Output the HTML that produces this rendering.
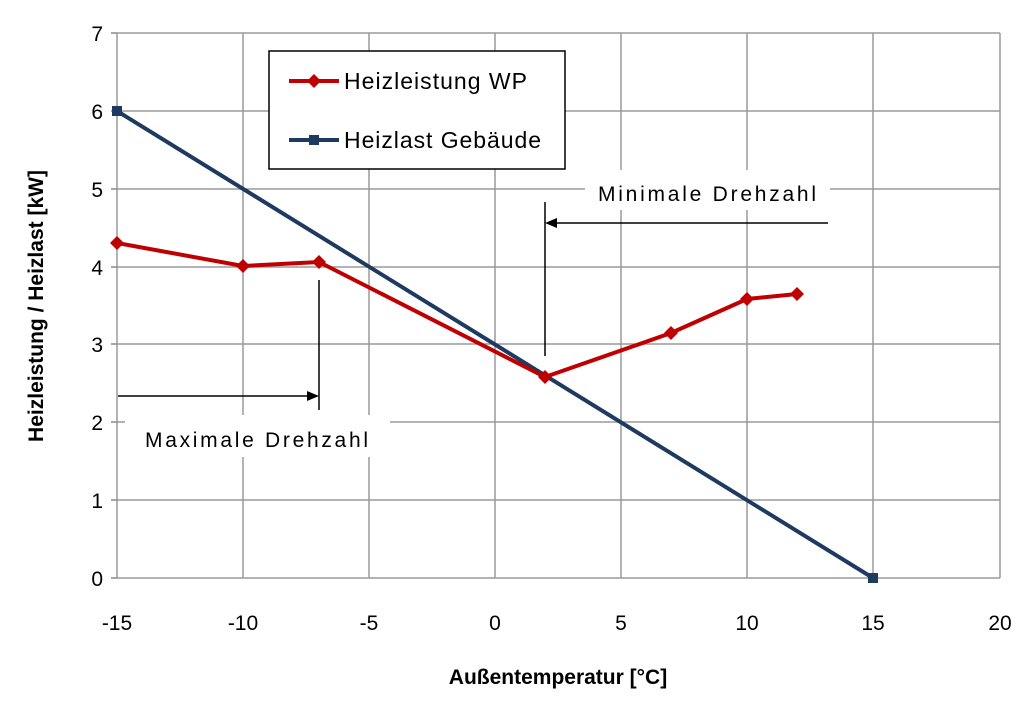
<!DOCTYPE html>
<html><head><meta charset="utf-8"><style>body{margin:0;background:#fff}svg{display:block}text{font-family:"Liberation Sans",sans-serif;fill:#000}</style></head><body>
<svg width="1024" height="722" viewBox="0 0 1024 722">
<g stroke="#9a9a9a" stroke-width="1.5">
<line x1="243" y1="33" x2="243" y2="578"/><line x1="369" y1="33" x2="369" y2="578"/><line x1="495" y1="33" x2="495" y2="578"/><line x1="621" y1="33" x2="621" y2="578"/><line x1="747" y1="33" x2="747" y2="578"/><line x1="873" y1="33" x2="873" y2="578"/><line x1="1000" y1="33" x2="1000" y2="578"/>
<line x1="117" y1="33" x2="1000" y2="33"/><line x1="117" y1="111" x2="1000" y2="111"/><line x1="117" y1="189" x2="1000" y2="189"/><line x1="117" y1="267" x2="1000" y2="267"/><line x1="117" y1="344" x2="1000" y2="344"/><line x1="117" y1="422" x2="1000" y2="422"/><line x1="117" y1="500" x2="1000" y2="500"/>
<line x1="117" y1="578" x2="1000" y2="578"/><line x1="117" y1="33" x2="117" y2="578"/>
</g>
<g stroke="#888" stroke-width="1.5">
<line x1="111" y1="33" x2="117" y2="33"/><line x1="111" y1="111" x2="117" y2="111"/><line x1="111" y1="189" x2="117" y2="189"/><line x1="111" y1="267" x2="117" y2="267"/><line x1="111" y1="344" x2="117" y2="344"/><line x1="111" y1="422" x2="117" y2="422"/><line x1="111" y1="500" x2="117" y2="500"/><line x1="111" y1="578" x2="117" y2="578"/>
</g>
<g font-size="21" text-anchor="end">
<text x="103" y="41">7</text><text x="103" y="119">6</text><text x="103" y="197">5</text><text x="103" y="275">4</text><text x="103" y="352">3</text><text x="103" y="430">2</text><text x="103" y="508">1</text><text x="103" y="586">0</text>
</g>
<g font-size="21" text-anchor="middle">
<text x="117" y="630">-15</text><text x="243" y="630">-10</text><text x="369" y="630">-5</text><text x="495" y="630">0</text><text x="621" y="630">5</text><text x="747" y="630">10</text><text x="873" y="630">15</text><text x="1000" y="630">20</text>
</g>
<text x="558" y="684" font-size="21" font-weight="bold" text-anchor="middle">Außentemperatur [°C]</text>
<text transform="translate(43,306) rotate(-90)" font-size="21" font-weight="bold" text-anchor="middle">Heizleistung / Heizlast [kW]</text>
<!-- annotation boxes -->
<rect x="585" y="170" width="245" height="40" fill="#fff"/>
<text x="598" y="201" font-size="21" textLength="218">Minimale Drehzahl</text>
<rect x="125" y="415" width="265" height="42" fill="#fff"/>
<text x="145" y="447" font-size="21" textLength="223">Maximale Drehzahl</text>
<g stroke="#000" stroke-width="1.5">
<line x1="545" y1="202" x2="545" y2="356"/><line x1="828" y1="223" x2="553" y2="223"/>
<line x1="319" y1="280" x2="319" y2="410"/><line x1="118" y1="396" x2="310" y2="396"/>
</g>
<polygon points="545,223 557,218 557,228"/>
<polygon points="319,396 307,391 307,401"/>
<polyline points="117,111 873,578" fill="none" stroke="#1f3a60" stroke-width="4"/>
<rect x="112" y="106" width="10" height="10" fill="#1f3a60"/><rect x="868" y="573" width="10" height="10" fill="#1f3a60"/>
<polyline points="117,243 243,266 319,262 545,377 671,333 747,299 797,294" fill="none" stroke="#c00000" stroke-width="4"/>
<g fill="#c00000">
<polygon points="117,236 124,243 117,250 110,243"/><polygon points="243,259 250,266 243,273 236,266"/><polygon points="319,255 326,262 319,269 312,262"/><polygon points="545,370 552,377 545,384 538,377"/><polygon points="671,326 678,333 671,340 664,333"/><polygon points="747,292 754,299 747,306 740,299"/><polygon points="797,287 804,294 797,301 790,294"/>
</g>
<rect x="269" y="51" width="296" height="118" fill="#fff" stroke="#000" stroke-width="1.5"/>
<line x1="289" y1="81" x2="339" y2="81" stroke="#c00000" stroke-width="4"/>
<polygon points="314,74 321,81 314,88 307,81" fill="#c00000"/>
<line x1="289" y1="140" x2="339" y2="140" stroke="#1f3a60" stroke-width="4"/>
<rect x="309" y="135" width="10" height="10" fill="#1f3a60"/>
<text x="344" y="89" font-size="23" textLength="183">Heizleistung WP</text>
<text x="344" y="148" font-size="23" textLength="197">Heizlast Gebäude</text>
</svg>
</body></html>
